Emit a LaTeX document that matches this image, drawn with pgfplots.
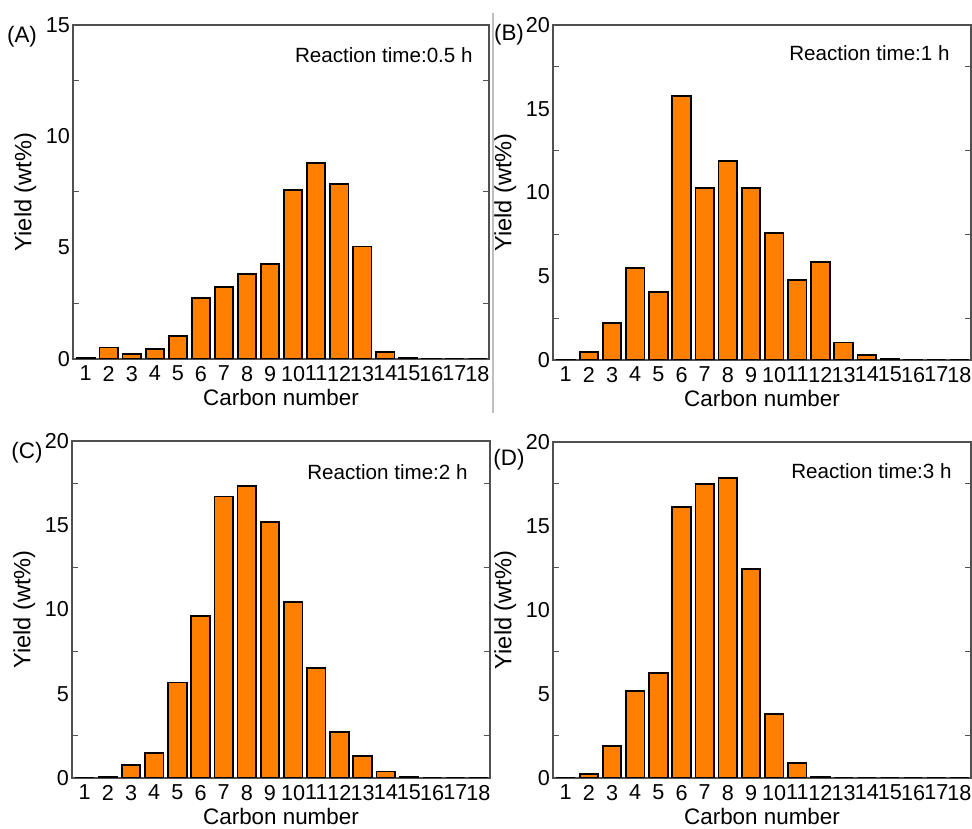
\documentclass[border=0pt]{standalone}
\usepackage{fontspec}
\setmainfont{Liberation Sans}
\usepackage{pgfplots}
\pgfplotsset{compat=1.18}
\definecolor{barorange}{HTML}{FF8000}
\definecolor{axgray}{HTML}{505050}
\pgfplotsset{
  panel/.style={
    scale only axis,
    ybar, bar width=0.8, bar shift=0pt,
    xmin=0.45, xmax=18.5, ymin=0,
    xtick={1,...,18},
    x tick style={draw=none},
    minor y tick num=1,
    tick align=inside,
    major tick length=0pt,
    minor tick length=3pt,
    y tick style={axgray, line width=0.5pt},
    axis line style={axgray, line width=0.7pt},
    /pgf/number format/assume math mode=true,
    tick label style={font=\fontsize{10.8}{12}\selectfont},
    xlabel style={font=\fontsize{11.2}{12}\selectfont, yshift=3pt},
    ylabel style={font=\fontsize{11.8}{12}\selectfont, yshift=-2pt},
    xlabel={Carbon number},
    ylabel={Yield (wt\%)},
    yticklabel style={xshift=2pt},
  },
  barstyle/.style={fill=barorange, draw=black, line width=0.9pt},
}
\tikzset{rt/.style={anchor=east, inner sep=0pt, font=\fontsize{10.3}{12}\selectfont}}
\begin{document}
\begin{tikzpicture}
\useasboundingbox (0pt,0pt) rectangle (486pt,414pt);
% Panel A
\begin{axis}[panel, at={(36.5pt,234.5pt)}, anchor=south west, width=208pt, height=167pt,
  ymax=15, ytick={0,5,10,15}]
\addplot[barstyle] coordinates {(1,0.05) (2,0.52) (3,0.22) (4,0.46) (5,1.03) (6,2.74) (7,3.25) (8,3.80) (9,4.28) (10,7.58) (11,8.79) (12,7.87) (13,5.05) (14,0.33) (15,0.06) (16,0.02) (17,0) (18,0)};
\node[rt] at ([xshift=-8pt,yshift=-15pt]rel axis cs:1,1) {Reaction time:0.5 h};
\end{axis}
% Panel B
\begin{axis}[panel, at={(276.5pt,234pt)}, anchor=south west, width=209pt, height=167.5pt,
  ymax=20, ytick={0,5,10,15,20}]
\addplot[barstyle] coordinates {(1,0.02) (2,0.50) (3,2.23) (4,5.49) (5,4.06) (6,15.78) (7,10.27) (8,11.86) (9,10.29) (10,7.58) (11,4.78) (12,5.83) (13,1.05) (14,0.32) (15,0.04) (16,0.02) (17,0) (18,0)};
\node[rt] at ([xshift=-10.5pt,yshift=-14pt]rel axis cs:1,1) {Reaction time:1 h};
\end{axis}
% Panel C
\begin{axis}[panel, at={(36pt,25pt)}, anchor=south west, width=209pt, height=168.5pt,
  ymax=20, ytick={0,5,10,15,20}]
\addplot[barstyle] coordinates {(1,0) (2,0.04) (3,0.79) (4,1.48) (5,5.67) (6,9.63) (7,16.70) (8,17.31) (9,15.20) (10,10.44) (11,6.53) (12,2.74) (13,1.32) (14,0.39) (15,0.04) (16,0) (17,0) (18,0)};
\node[rt] at ([xshift=-11pt,yshift=-15.5pt]rel axis cs:1,1) {Reaction time:2 h};
\end{axis}
% Panel D
\begin{axis}[panel, at={(276.5pt,25pt)}, anchor=south west, width=209pt, height=168pt,
  ymax=20, ytick={0,5,10,15,20}]
\addplot[barstyle] coordinates {(1,0) (2,0.24) (3,1.92) (4,5.17) (5,6.24) (6,16.14) (7,17.52) (8,17.84) (9,12.44) (10,3.82) (11,0.91) (12,0.04) (13,0) (14,0) (15,0) (16,0) (17,0) (18,0)};
\node[rt] at ([xshift=-9.5pt,yshift=-14.5pt]rel axis cs:1,1) {Reaction time:3 h};
\end{axis}
% separator
\draw[gray!50, line width=0.6pt] (246.5pt,407.5pt) -- (246.5pt,207.5pt);
% panel letters
\node[font=\fontsize{11.2}{12}\selectfont] at (11pt,395.5pt) {(A)};
\node[font=\fontsize{11.2}{12}\selectfont] at (254.5pt,396.5pt) {(B)};
\node[font=\fontsize{11.2}{12}\selectfont] at (13.5pt,187.5pt) {(C)};
\node[font=\fontsize{11.2}{12}\selectfont] at (254.5pt,184pt) {(D)};
\end{tikzpicture}
\end{document}
